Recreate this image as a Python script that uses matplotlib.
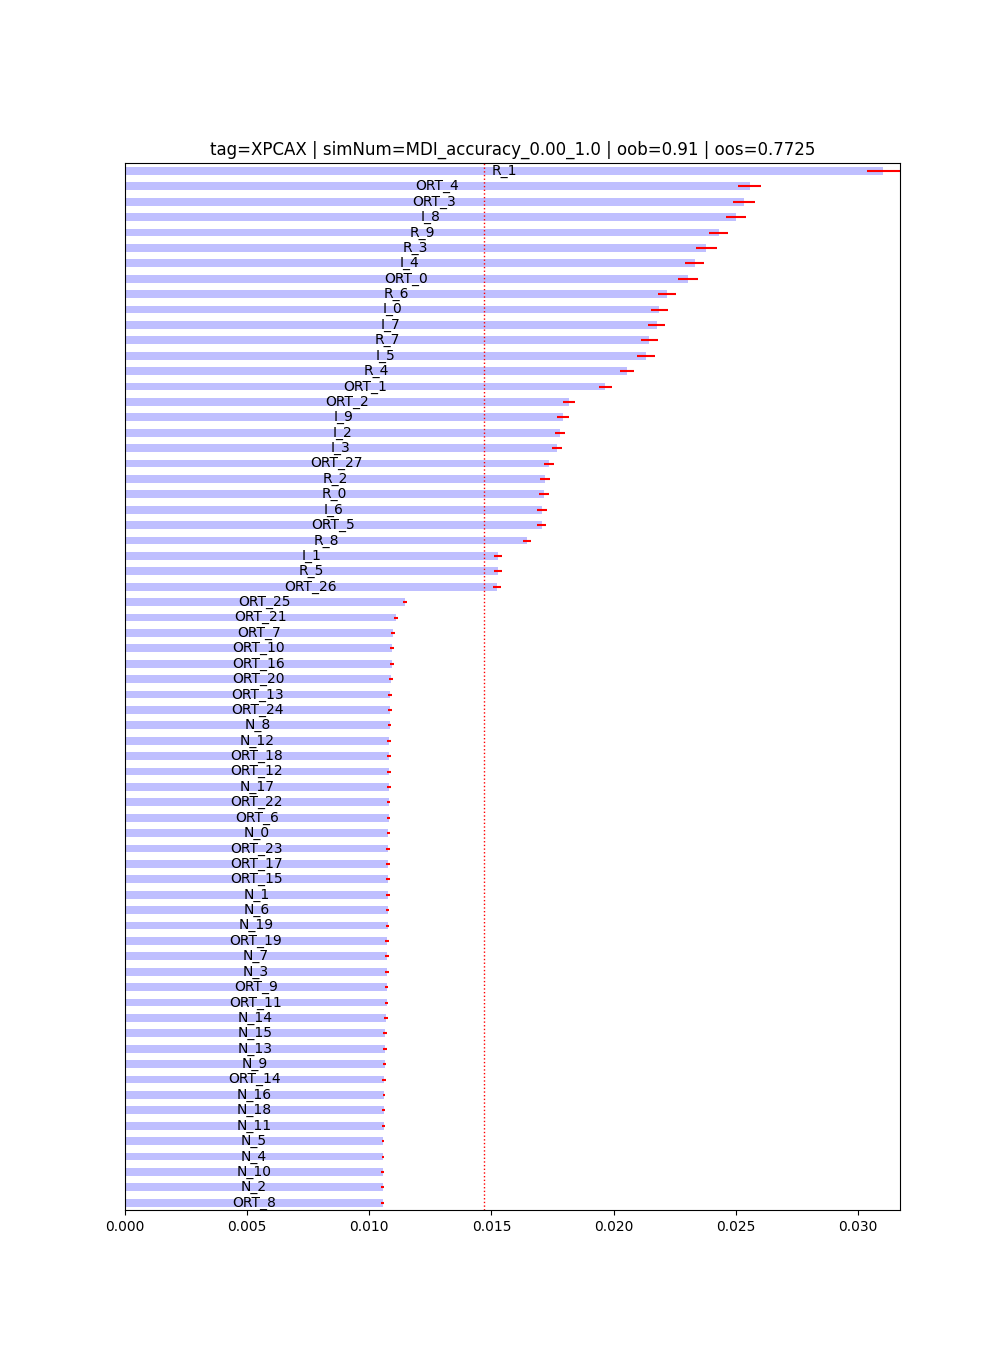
import matplotlib
matplotlib.use('Agg')
import matplotlib.pyplot as plt

# feature importances (MDI), listed top-down as in the chart
features = ['R_1', 'ORT_4', 'ORT_3', 'I_8', 'R_9', 'R_3', 'I_4', 'ORT_0', 'R_6', 'I_0',
            'I_7', 'R_7', 'I_5', 'R_4', 'ORT_1', 'ORT_2', 'I_9', 'I_2', 'I_3', 'ORT_27',
            'R_2', 'R_0', 'I_6', 'ORT_5', 'R_8', 'I_1', 'R_5', 'ORT_26', 'ORT_25', 'ORT_21',
            'ORT_7', 'ORT_10', 'ORT_16', 'ORT_20', 'ORT_13', 'ORT_24', 'N_8', 'N_12', 'ORT_18', 'ORT_12',
            'N_17', 'ORT_22', 'ORT_6', 'N_0', 'ORT_23', 'ORT_17', 'ORT_15', 'N_1', 'N_6', 'N_19',
            'ORT_19', 'N_7', 'N_3', 'ORT_9', 'ORT_11', 'N_14', 'N_15', 'N_13', 'N_9', 'ORT_14',
            'N_16', 'N_18', 'N_11', 'N_5', 'N_4', 'N_10', 'N_2', 'ORT_8']
means = [0.03104, 0.02557, 0.02533, 0.02501, 0.02431, 0.02380, 0.02332, 0.02304, 0.02218, 0.02186,
         0.02177, 0.02145, 0.02132, 0.02055, 0.01965, 0.01817, 0.01793, 0.01780, 0.01768, 0.01735,
         0.01719, 0.01715, 0.01707, 0.01706, 0.01645, 0.01527, 0.01526, 0.01523, 0.01146, 0.01109,
         0.01097, 0.01093, 0.01092, 0.01089, 0.01085, 0.01084, 0.01083, 0.01081, 0.01081, 0.01080,
         0.01080, 0.01079, 0.01079, 0.01078, 0.01077, 0.01077, 0.01076, 0.01076, 0.01075, 0.01075,
         0.01073, 0.01072, 0.01072, 0.01071, 0.01071, 0.01068, 0.01064, 0.01064, 0.01063, 0.01060,
         0.01060, 0.01059, 0.01059, 0.01056, 0.01056, 0.01055, 0.01055, 0.01055]
stds = [0.00068, 0.00048, 0.00046, 0.00041, 0.00039, 0.00043, 0.00039, 0.00041, 0.00037, 0.00035,
        0.00035, 0.00035, 0.00037, 0.00027, 0.00027, 0.00025, 0.00023, 0.00020, 0.00020, 0.00020,
        0.00020, 0.00020, 0.00020, 0.00018, 0.00016, 0.00016, 0.00016, 0.00016, 0.00008, 0.00008,
        0.00007, 0.00007, 0.00007, 0.00007, 0.00007, 0.00007, 0.00007, 0.00007, 0.00007, 0.00007,
        0.00007, 0.00007, 0.00007, 0.00007, 0.00007, 0.00007, 0.00007, 0.00007, 0.00007, 0.00007,
        0.00007, 0.00007, 0.00007, 0.00007, 0.00007, 0.00007, 0.00007, 0.00007, 0.00007, 0.00007,
        0.00006, 0.00006, 0.00006, 0.00006, 0.00006, 0.00006, 0.00006, 0.00006]

tag = 'XPCAX'
simNum = 'MDI_accuracy_0.00_1.0'
oob = 0.91
oos = 0.7725

# sort ascending so the biggest ends up on top
names = features[::-1]
m = means[::-1]
s = stds[::-1]
pos = list(range(len(names)))

fig = plt.figure(figsize=(10, len(names) / 5.))
ax = plt.gca()
bars = ax.barh(pos, m, height=0.5, color='b', alpha=.25, xerr=s, error_kw={'ecolor': 'r'})
plt.ylim(-0.5, len(names) - 0.5)
plt.xlim([0, max(a + b for a, b in zip(m, s))])
plt.axvline(1. / len(names), linewidth=1, color='r', linestyle='dotted')
ax.get_yaxis().set_visible(False)
for p, name in zip(bars.patches, names):
    ax.text(p.get_width() / 2, p.get_y() + p.get_height() / 2, name,
            ha='center', va='center', color='black')
plt.title('tag=' + tag + ' | simNum=' + str(simNum) + ' | oob=' + str(round(oob, 4)) + ' | oos=' + str(round(oos, 4)))
plt.savefig('out.png', dpi=100)
